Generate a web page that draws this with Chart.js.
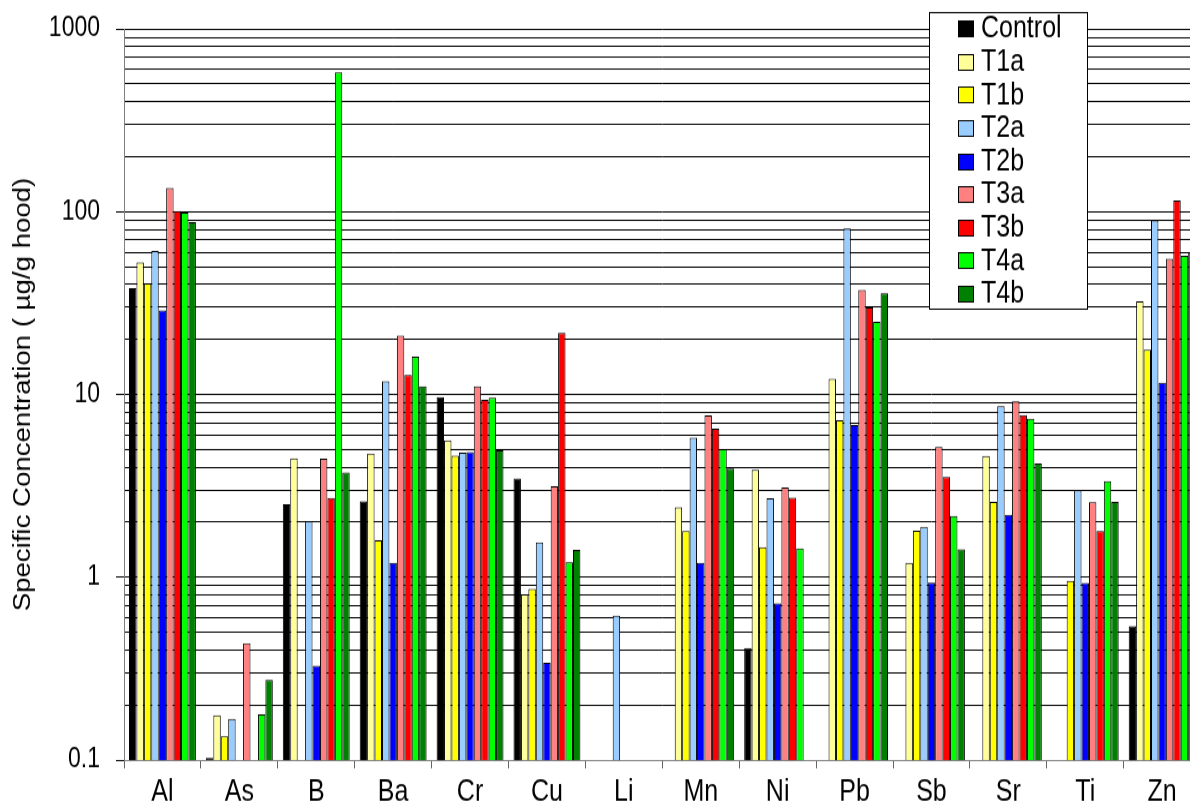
<!DOCTYPE html>
<html>
<head>
<meta charset="utf-8">
<script src="https://cdn.jsdelivr.net/npm/chart.js@4.4.1/dist/chart.umd.min.js"></script>
<style>
html,body{margin:0;padding:0;overflow:hidden;background:#fff;}
#c{display:block;}
</style>
</head>
<body>
<canvas id="c" width="1210" height="673" style="width:1210px;height:808px;"></canvas>
<script>
// ---- data ----
const categories = ['Al','As','B','Ba','Cr','Cu','Li','Mn','Ni','Pb','Sb','Sr','Ti','Zn'];
const seriesNames = ['Control','T1a','T1b','T2a','T2b','T3a','T3b','T4a','T4b'];
const control = [38.1, 0.1025, 2.51, 2.60, 9.68, 3.47, null, null, 0.41, null, null, null, null, 0.54];
const t1a     = [52.8, 0.176, 4.47, 4.76, 5.61, 0.807, null, 2.41, 3.87, 12.2, 1.20, 4.61, null, 32.3];
const t1b     = [40.5, 0.135, null, 1.59, 4.62, 0.863, null, 1.79, 1.46, 7.22, 1.80, 2.58, 0.955, 17.6];
const t2a     = [61.0, 0.168, 2.03, 11.8, 4.81, 1.55, 0.617, 5.81, 2.70, 80.9, 1.89, 8.63, 2.99, 89.6];
const t2b     = [28.9, null, 0.328, 1.20, 4.84, 0.34, null, 1.20, 0.72, 6.8, 0.935, 2.2, 0.93, 11.6];
const t3a     = [135, 0.435, 4.46, 21.0, 11.1, 3.15, null, 7.67, 3.10, 37.3, 5.16, 9.18, 2.57, 55.3];
const t3b     = [101, null, 2.71, 12.8, 9.35, 21.7, null, 6.51, 2.73, 30.0, 3.54, 7.70, 1.79, 115];
const t4a     = [99.0, 0.178, 578, 16.1, 9.6, 1.21, null, 5.02, 1.44, 25.0, 2.16, 7.38, 3.36, 57.5];
const t4b     = [87.6, 0.274, 3.75, 11.1, 4.95, 1.41, null, 3.93, null, 35.8, 1.42, 4.19, 2.58, 60.0];
const yTickValues = [0.1, 1, 10, 100, 1000];
const yTickLabels = ['0.1', '1', '10', '100', '1000'];
const yTitle = 'Specific Concentration ( \u00b5g/g hood)';

// ---- styles ----
const seriesValues = [control, t1a, t1b, t2a, t2b, t3a, t3b, t4a, t4b];
const seriesColors = ['#000000','#FFFF99','#FFFF00','#99CCFF','#0000FF','#FF8080','#FF0000','#00FF00','#008000'];
const FAMILY = '"Liberation Sans", Arial, sans-serif';

// grid positions: 1..9 x each decade
const yGridValues = [];
[0.1, 1, 10, 100].forEach(d => { for (let m = 1; m <= 9; m++) yGridValues.push(Number((m * d).toPrecision(3))); });
yGridValues.push(1000);

const legendBox = {
  id: 'legendBox',
  afterDraw(chart) {
    const ctx = chart.ctx;
    ctx.save();
    ctx.fillStyle = '#ffffff';
    ctx.fillRect(929.5, 10.5, 158, 247);
    ctx.strokeStyle = '#000';
    ctx.lineWidth = 1;
    ctx.strokeRect(929.5, 10.5, 158, 247);
    ctx.font = '25px ' + FAMILY;
    ctx.textBaseline = 'middle';
    ctx.textAlign = 'left';
    chart.data.datasets.forEach((ds, i) => {
      const cy = 23.6 + i * 27.6;
      const top = Math.round(cy - 6.5) + 0.5;
      ctx.fillStyle = ds.backgroundColor;
      ctx.fillRect(958.5, top, 15, 13);
      ctx.strokeStyle = '#000';
      ctx.strokeRect(958.5, top, 15, 13);
      ctx.fillStyle = '#000';
      ctx.fillText(ds.label, 981, cy + 1);
    });
    ctx.restore();
  }
};

new Chart(document.getElementById('c'), {
  type: 'bar',
  data: {
    labels: categories,
    datasets: seriesNames.map((name, i) => ({
      label: name,
      data: seriesValues[i],
      backgroundColor: seriesColors[i],
      borderColor: '#000000',
      borderWidth: 1,
      categoryPercentage: 0.87,
      barPercentage: 1.0
    }))
  },
  options: {
    responsive: false,
    maintainAspectRatio: false,
    animation: false,
    layout: { padding: { top: 24.1, right: 9.4, bottom: 0, left: 0 } },
    plugins: { legend: { display: false }, tooltip: { enabled: false } },
    scales: {
      x: {
        type: 'category',
        grid: { display: true, drawOnChartArea: false, drawTicks: true, tickLength: 7, tickColor: '#666666', offset: true },
        border: { display: true, color: '#808080', width: 1 },
        ticks: { color: '#000', font: { family: FAMILY, size: 25 }, padding: 5, autoSkip: false, maxRotation: 0 },
        afterFit(scale) { scale.height = 40; scale.paddingLeft = 0; scale.paddingRight = 0; }
      },
      y: {
        type: 'logarithmic',
        min: 0.1,
        max: 1000,
        afterBuildTicks(scale) { scale.ticks = yGridValues.map(v => ({ value: v })); },
        grid: {
          color: '#000000',
          lineWidth: 1,
          tickLength: 8,
          tickColor: (ctx) => (ctx.tick && yTickValues.indexOf(ctx.tick.value) >= 0) ? '#000000' : 'rgba(0,0,0,0)'
        },
        border: { display: true, color: '#808080', width: 1 },
        ticks: {
          autoSkip: false,
          padding: 16,
          color: '#000',
          font: { family: FAMILY, size: 23 },
          callback: (v) => { const i = yTickValues.indexOf(v); return i >= 0 ? yTickLabels[i] : ''; }
        },
        title: { display: true, text: yTitle, color: '#000', font: { family: FAMILY, size: 23 }, padding: { top: 10, bottom: 0 } },
        afterFit(scale) { scale.width = 124; scale.paddingTop = 0; scale.paddingBottom = 0; }
      }
    }
  },
  plugins: [legendBox]
});
</script>
</body>
</html>
